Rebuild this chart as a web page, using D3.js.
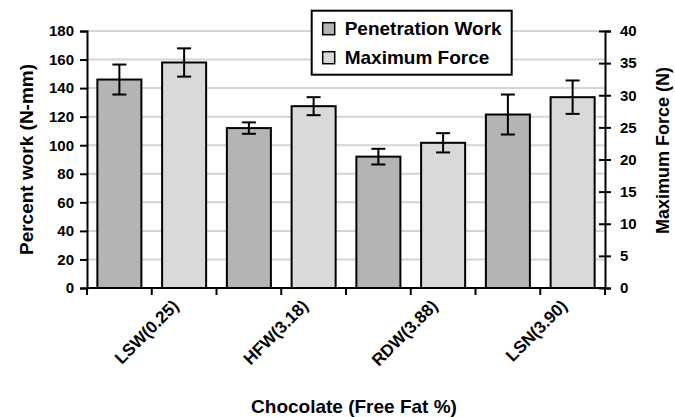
<!DOCTYPE html>
<html>
<head>
<meta charset="utf-8">
<script src="https://cdn.jsdelivr.net/npm/d3@7"></script>
<style>
  body { margin: 0; background: #fff; }
  text { font-family: Arial, "Liberation Sans", sans-serif; font-weight: bold; fill: #000; }
</style>
</head>
<body>
<div id="my_dataviz"></div>
<script>
// data
var categories = ["LSW(0.25)", "HFW(3.18)", "RDW(3.88)", "LSN(3.90)"];
var penetrationWork = [146, 112, 92, 121.5];
var penetrationErr = [10.5, 4, 5.5, 14];
var maxForce = [35.1, 28.3, 22.6, 29.7];
var maxForceErr = [2.2, 1.4, 1.5, 2.6];
var leftTicks = [0, 20, 40, 60, 80, 100, 120, 140, 160, 180];
var rightTicks = [0, 5, 10, 15, 20, 25, 30, 35, 40];
var seriesNames = ["Penetration Work", "Maximum Force"];
var seriesColors = ["#b4b4b4", "#d9d9d9"];

// dimensions and margins of the graph
var margin = {top: 31, right: 70, bottom: 129, left: 87},
    width = 675 - margin.left - margin.right,
    height = 417 - margin.top - margin.bottom;

var svg = d3.select("#my_dataviz")
    .append("svg")
    .attr("width", 675)
    .attr("height", 417)
    .append("g")
    .attr("transform", "translate(" + margin.left + "," + margin.top + ")");

// scales
var x = d3.scaleBand()
    .domain(categories)
    .range([0, width])
    .padding(0);

var xSub = d3.scaleBand()
    .domain([0, 1])
    .range([0, x.bandwidth()])
    .paddingInner(0.32)
    .paddingOuter(0.16);

var yLeft = d3.scaleLinear()
    .domain([0, 180])
    .range([height, 0]);

var yRight = d3.scaleLinear()
    .domain([0, 40])
    .range([height, 0]);

// gridlines from the left axis
svg.append("g")
    .selectAll("line")
    .data(leftTicks.slice(1))
    .enter()
    .append("line")
    .attr("x1", 0)
    .attr("x2", width)
    .attr("y1", function(d) { return yLeft(d) })
    .attr("y2", function(d) { return yLeft(d) })
    .style("stroke", "#d4d4d4")
    .style("stroke-width", 2);

// bars
var rows = [];
categories.forEach(function(c, i) {
    rows.push({cat: c, s: 0, v: penetrationWork[i], e: penetrationErr[i], y: yLeft});
    rows.push({cat: c, s: 1, v: maxForce[i], e: maxForceErr[i], y: yRight});
});

svg.append("g")
    .selectAll("rect")
    .data(rows)
    .enter()
    .append("rect")
    .attr("x", function(d) { return x(d.cat) + xSub(d.s) })
    .attr("y", function(d) { return d.y(d.v) })
    .attr("width", xSub.bandwidth())
    .attr("height", function(d) { return height - d.y(d.v) })
    .style("fill", function(d) { return seriesColors[d.s] })
    .style("stroke", "#000")
    .style("stroke-width", 2);

// error bars
var err = svg.append("g")
    .selectAll("g")
    .data(rows)
    .enter()
    .append("g")
    .attr("transform", function(d) { return "translate(" + (x(d.cat) + xSub(d.s) + xSub.bandwidth() / 2) + ",0)" });

err.append("line")
    .attr("y1", function(d) { return d.y(d.v + d.e) })
    .attr("y2", function(d) { return d.y(d.v - d.e) })
    .style("stroke", "#000")
    .style("stroke-width", 2);

err.selectAll(".cap")
    .data(function(d) { return [d.y(d.v + d.e), d.y(d.v - d.e)] })
    .enter()
    .append("line")
    .attr("class", "cap")
    .attr("x1", -7)
    .attr("x2", 7)
    .attr("y1", function(d) { return d })
    .attr("y2", function(d) { return d })
    .style("stroke", "#000")
    .style("stroke-width", 2);

// left axis
var leftAxis = svg.append("g")
    .call(d3.axisLeft(yLeft).tickValues(leftTicks).tickSize(7).tickPadding(6));
leftAxis.selectAll("text").style("font-size", "15px");

// right axis, ticks cross the line
var rightAxis = svg.append("g")
    .attr("transform", "translate(" + width + ",0)")
    .call(d3.axisRight(yRight).tickValues(rightTicks).tickSize(6).tickPadding(9));
rightAxis.selectAll(".tick line").attr("x1", -6);
rightAxis.selectAll("text").style("font-size", "15px");

// bottom axis with a tick between every bar
var subEdges = d3.range(0, 9).map(function(i) { return i * width / 8 });
var bottom = svg.append("g")
    .attr("transform", "translate(0," + height + ")");
bottom.append("line")
    .attr("x1", 0)
    .attr("x2", width)
    .style("stroke", "#000")
    .style("stroke-width", 2);
bottom.selectAll(".tk")
    .data(subEdges)
    .enter()
    .append("line")
    .attr("class", "tk")
    .attr("x1", function(d) { return d })
    .attr("x2", function(d) { return d })
    .attr("y1", 0)
    .attr("y2", 7)
    .style("stroke", "#000")
    .style("stroke-width", 2);

bottom.selectAll(".lbl")
    .data(categories)
    .enter()
    .append("text")
    .attr("class", "lbl")
    .attr("text-anchor", "end")
    .attr("transform", function(d) { return "translate(" + (x(d) + x.bandwidth() / 2 + 28) + ",19) rotate(-45)" })
    .style("font-size", "17px")
    .text(function(d) { return d });

svg.selectAll(".domain").style("stroke", "#000").style("stroke-width", 2);
svg.selectAll(".tick line").style("stroke", "#000").style("stroke-width", 2);

// axis titles
svg.append("text")
    .attr("text-anchor", "middle")
    .attr("transform", "translate(-54," + (height / 2) + ") rotate(-90)")
    .style("font-size", "19px")
    .text("Percent work (N-mm)");

svg.append("text")
    .attr("text-anchor", "middle")
    .attr("transform", "translate(" + (width + 64) + "," + (height / 2 - 9) + ") rotate(-90)")
    .style("font-size", "18px")
    .text("Maximum Force (N)");

svg.append("text")
    .attr("text-anchor", "middle")
    .attr("x", width / 2 + 8)
    .attr("y", height + 125)
    .style("font-size", "19px")
    .text("Chocolate (Free Fat %)");

// legend
var legend = svg.append("g")
    .attr("transform", "translate(" + (311.7 - margin.left) + "," + (10.7 - margin.top) + ")");
legend.append("rect")
    .attr("width", 200)
    .attr("height", 64)
    .style("fill", "#fff")
    .style("stroke", "#000")
    .style("stroke-width", 2);

var item = legend.selectAll(".item")
    .data(seriesNames)
    .enter()
    .append("g")
    .attr("class", "item")
    .attr("transform", function(d, i) { return "translate(11," + (12 + i * 29) + ")" });
item.append("rect")
    .attr("width", 12)
    .attr("height", 12)
    .style("fill", function(d, i) { return seriesColors[i] })
    .style("stroke", "#000")
    .style("stroke-width", 1.5);
item.append("text")
    .attr("x", 22)
    .attr("y", 12.5)
    .style("font-size", "19px")
    .text(function(d) { return d });
</script>
</body>
</html>
